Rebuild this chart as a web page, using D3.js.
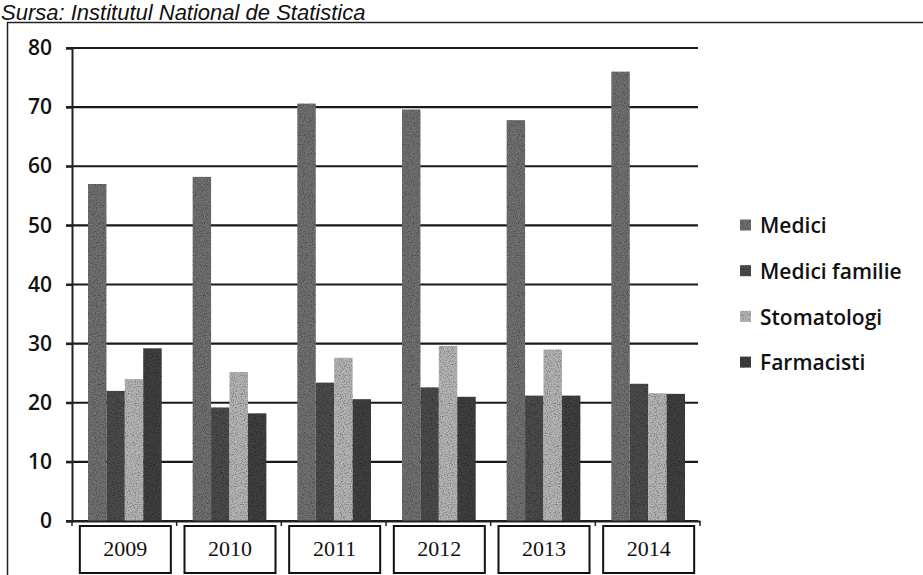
<!DOCTYPE html>
<html>
<head>
<meta charset="utf-8">
<script src="https://cdn.jsdelivr.net/npm/d3@7"></script>
<style>
  body { margin: 0; background: #fff; }
  svg { display: block; }
</style>
</head>
<body>
<script>
// data
var years = ["2009", "2010", "2011", "2012", "2013", "2014"];
var seriesNames = ["Medici", "Medici familie", "Stomatologi", "Farmacisti"];
var medici = [57, 58.2, 70.6, 69.6, 67.8, 76];
var mediciFamilie = [22, 19.2, 23.4, 22.6, 21.2, 23.2];
var stomatologi = [24, 25.2, 27.6, 29.6, 29, 21.6];
var farmacisti = [29.2, 18.2, 20.6, 21, 21.2, 21.5];
var yTicks = [0, 10, 20, 30, 40, 50, 60, 70, 80];

var seriesValues = [medici, mediciFamilie, stomatologi, farmacisti];
var colors = ["#707070", "#4c4c4c", "#b4b4b4", "#404040"];

var W = 923, H = 575;
var margin = {top: 48, left: 72, right: 223, bottom: 54};

var svg = d3.select("body").append("svg")
    .attr("width", W)
    .attr("height", H);

// grainy texture to look like the scanned print
var defs = svg.append("defs");
var filt = defs.append("filter").attr("id", "grain")
    .attr("x", 0).attr("y", 0).attr("width", 1).attr("height", 1);
filt.append("feTurbulence").attr("type", "fractalNoise")
    .attr("baseFrequency", 0.9).attr("numOctaves", 2).attr("seed", 3).attr("result", "noise");
filt.append("feColorMatrix").attr("in", "noise").attr("type", "matrix")
    .attr("values", "0 0 0 0 0  0 0 0 0 0  0 0 0 0 0  0 0 0 -1.6 0.9").attr("result", "dark");
filt.append("feComposite").attr("in", "dark").attr("in2", "SourceGraphic").attr("operator", "in").attr("result", "spots");
filt.append("feMerge").selectAll("feMergeNode").data(["SourceGraphic", "spots"])
    .enter().append("feMergeNode").attr("in", d => d);

// title
svg.append("text")
    .attr("x", 1).attr("y", 20)
    .style("font-family", "Liberation Sans, Arial, sans-serif")
    .style("font-style", "italic")
    .style("font-size", "22px")
    .attr("fill", "#111")
    .text("Sursa: Institutul National de Statistica");

// outer frame
svg.append("rect")
    .attr("x", 7.5).attr("y", 22.5)
    .attr("width", W + 10).attr("height", H + 10)
    .attr("fill", "none").attr("stroke", "#222").attr("stroke-width", 1.5);

var x0 = d3.scaleBand().domain(years).range([margin.left, W - margin.right]);
var x1 = d3.scaleBand().domain(seriesNames)
    .range([16, x0.bandwidth() - 15]);
var y = d3.scaleLinear().domain([0, 80]).range([H - margin.bottom, margin.top]);

// gridlines
svg.append("g").selectAll("line").data(yTicks).enter().append("line")
    .attr("x1", margin.left - 6).attr("x2", W - margin.right - 2)
    .attr("y1", d => y(d)).attr("y2", d => y(d))
    .attr("stroke", "#1a1a1a").attr("stroke-width", 2.2);

// y axis
var yAxis = svg.append("g")
    .attr("transform", "translate(" + margin.left + ",0)")
    .call(d3.axisLeft(y).tickValues(yTicks).tickSize(6).tickPadding(14));
yAxis.select(".domain").attr("stroke", "#222").attr("stroke-width", 2);
yAxis.selectAll(".tick line").attr("stroke", "#222").attr("stroke-width", 2);
yAxis.selectAll("text")
    .style("font-family", "Open Sans, sans-serif")
    .style("font-weight", "600")
    .style("font-size", "21px")
    .attr("fill", "#111");

// bars
var groups = svg.append("g").selectAll("g").data(years).enter().append("g")
    .attr("transform", d => "translate(" + x0(d) + ",0)");
groups.selectAll("rect")
    .data((d, i) => seriesNames.map((s, j) => ({s: s, v: seriesValues[j][i], j: j})))
    .enter().append("rect")
    .attr("x", d => x1(d.s))
    .attr("width", x1.bandwidth())
    .attr("y", d => y(d.v))
    .attr("height", d => y(0) - y(d.v))
    .attr("fill", d => colors[d.j])
    .attr("filter", "url(#grain)");

// x axis with category ticks
var xAxis = svg.append("g")
    .attr("transform", "translate(0," + y(0) + ")")
    .call(d3.axisBottom(x0).tickSize(0).tickFormat(""));
xAxis.select(".domain").attr("stroke", "#222").attr("stroke-width", 2);
svg.append("g").selectAll("line").data(years.concat(["end"])).enter().append("line")
    .attr("x1", (d, i) => margin.left + i * x0.bandwidth())
    .attr("x2", (d, i) => margin.left + i * x0.bandwidth())
    .attr("y1", y(0)).attr("y2", y(0) + 5)
    .attr("stroke", "#222").attr("stroke-width", 1.5);

// boxed year labels
var labels = svg.append("g").selectAll("g").data(years).enter().append("g")
    .attr("transform", d => "translate(" + (x0(d) + x0.bandwidth() / 2 + 1) + "," + (y(0) + 5) + ")");
labels.append("rect")
    .attr("x", -45.5).attr("y", 0)
    .attr("width", 91).attr("height", 47)
    .attr("fill", "#fff").attr("stroke", "#111").attr("stroke-width", 2);
labels.append("text")
    .attr("y", 30)
    .attr("text-anchor", "middle")
    .style("font-family", "Liberation Serif, Times New Roman, serif")
    .style("font-size", "22px")
    .attr("fill", "#111")
    .text(d => d);

// legend
var legend = svg.append("g").selectAll("g").data(seriesNames).enter().append("g")
    .attr("transform", (d, i) => "translate(740," + (225 + i * 45.7) + ")");
legend.append("rect")
    .attr("x", 0).attr("y", -5.5)
    .attr("width", 11).attr("height", 11)
    .attr("fill", (d, i) => colors[i])
    .attr("filter", "url(#grain)");
legend.append("text")
    .attr("x", 20).attr("y", 1)
    .attr("dy", "0.35em")
    .style("font-family", "Open Sans, sans-serif")
    .style("font-weight", "600")
    .style("font-size", "21px")
    .attr("fill", "#111")
    .text(d => d);
</script>
</body>
</html>
